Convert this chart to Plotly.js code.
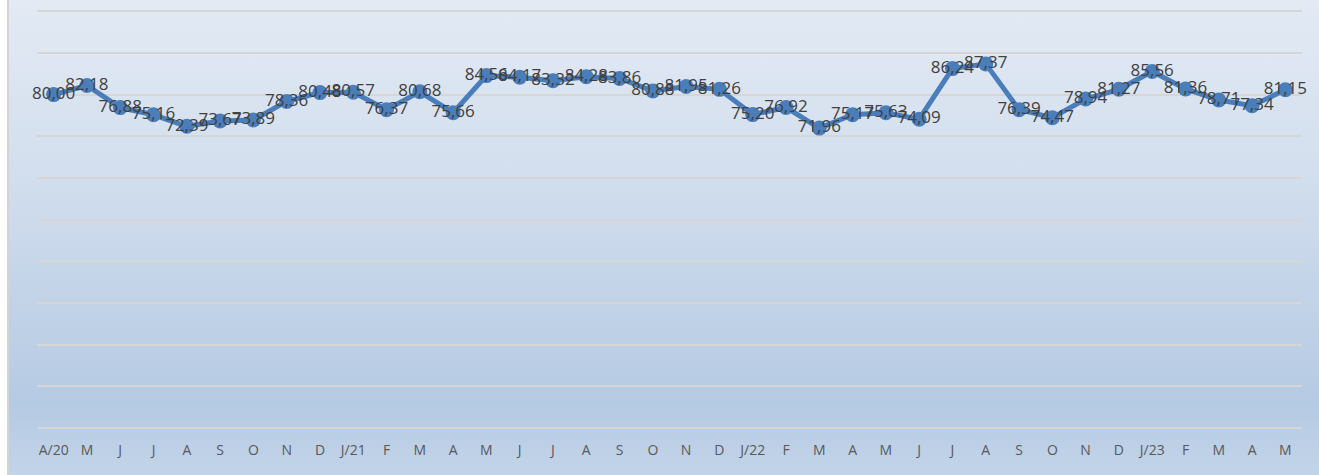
<!DOCTYPE html>
<html>
<head>
<meta charset="utf-8">
<script src="https://cdn.plot.ly/plotly-3.0.1.min.js"></script>
<style>
  html, body { margin: 0; padding: 0; background: #ffffff; }
  #wrap { position: relative; width: 1319px; height: 475px; overflow: hidden; }
  #bg { position: absolute; left: 7px; top: 0; width: 1312px; height: 475px;
        border-left: 2px solid #d4d4d4; box-sizing: border-box;
        background: linear-gradient(to bottom, #e3eaf4 0%, #d3dfee 35%, #b5cae3 85%, #c2d4e9 100%); }
  #chart { position: absolute; left: 0; top: 0; width: 1319px; height: 475px; }
</style>
</head>
<body>
<div id="wrap">
  <div id="bg"></div>
  <div id="chart"></div>
</div>
<script>
// Month tick labels (Apr 2020 – May 2023)
const months = ["A/20","M","J","J","A","S","O","N","D",
                "J/21","F","M","A","M","J","J","A","S","O","N","D",
                "J/22","F","M","A","M","J","J","A","S","O","N","D",
                "J/23","F","M","A","M"];
// Series values
const values = [80.00, 82.18, 76.88, 75.16, 72.39, 73.67, 73.89, 78.36, 80.48,
                80.57, 76.37, 80.68, 75.66, 84.56, 84.17, 83.32, 84.28, 83.86, 80.88, 81.95, 81.26,
                75.20, 76.92, 71.96, 75.17, 75.63, 74.09, 86.24, 87.37, 76.39, 74.47, 78.94, 81.27,
                85.56, 81.36, 78.71, 77.34, 81.15];

const xIdx = months.map((_, i) => i);

const trace = {
  type: 'scatter',
  mode: 'lines+markers+text',
  x: xIdx,
  y: values,
  line: { color: '#4a7ebb', width: 5 },
  marker: { color: '#4a7ebb', size: 15 },
  texttemplate: '%{y:.2f}',
  textposition: 'middle center',
  textfont: { family: 'Open Sans, DejaVu Sans, sans-serif', size: 17, color: '#404040' },
  cliponaxis: false,
  hoverinfo: 'skip'
};

const layout = {
  width: 1319,
  height: 475,
  margin: { l: 37, r: 17, t: 10, b: 47 },
  paper_bgcolor: 'rgba(0,0,0,0)',
  plot_bgcolor: 'rgba(0,0,0,0)',
  separators: ', ',
  showlegend: false,
  xaxis: {
    range: [-0.5, months.length - 0.5],
    tickmode: 'array',
    tickvals: xIdx,
    ticktext: months,
    showgrid: false,
    zeroline: false,
    showline: false,
    ticks: '',
    ticklabelstandoff: 12,
    tickfont: { family: 'Open Sans, DejaVu Sans, sans-serif', size: 14, color: '#595959' },
    fixedrange: true
  },
  yaxis: {
    range: [0, 100.3],
    tickmode: 'array',
    tickvals: [0, 10, 20, 30, 40, 50, 60, 70, 80, 90, 100],
    showticklabels: false,
    showgrid: true,
    gridcolor: '#d6d6d6',
    gridwidth: 2,
    zeroline: true,
    zerolinecolor: '#d6d6d6',
    zerolinewidth: 2,
    showline: false,
    ticks: '',
    fixedrange: true
  }
};

Plotly.newPlot('chart', [trace], layout, { displayModeBar: false, staticPlot: true });
</script>
</body>
</html>
